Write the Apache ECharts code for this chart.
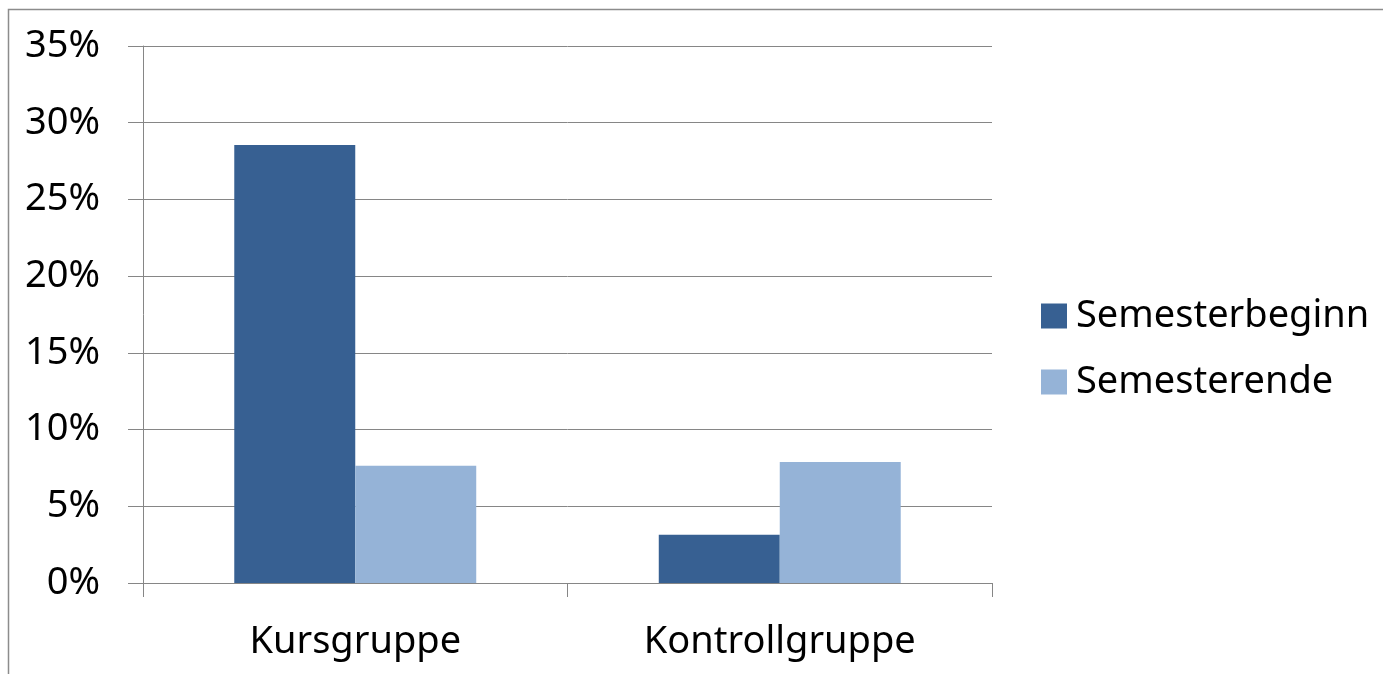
<!DOCTYPE html>
<html>
<head>
<meta charset="utf-8">
<script src="https://cdn.jsdelivr.net/npm/echarts@6/dist/echarts.min.js"></script>
<style>
  html, body { margin: 0; padding: 0; background: #fff; }
  #chart { width: 1383px; height: 674px; }
</style>
</head>
<body>
<div id="chart"></div>
<script>
// Daten
const categories = ['Kursgruppe', 'Kontrollgruppe']
const seriesNames = ['Semesterbeginn', 'Semesterende']
const beginnValues = [28.55, 3.15]
const endeValues = [7.64, 7.88]
const yTicks = { min: 0, max: 35, interval: 5 }

const gray = '#868686'
const font = 'Noto Sans'

const myChart = echarts.init(document.getElementById('chart'))

const options = {
  animation: false,
  textStyle: { fontFamily: font },
  // Rahmen um das Diagramm
  graphic: [{
    type: 'rect',
    shape: { x: 8.5, y: 9.5, width: 1500, height: 800 },
    style: { fill: 'none', stroke: '#8c8c8c', lineWidth: 1.5 },
    silent: true
  }],
  grid: { left: 143, right: 391, top: 46, bottom: 91 },
  legend: {
    orient: 'vertical',
    left: 1036,
    top: 291,
    itemWidth: 26,
    itemHeight: 25,
    itemGap: 26,
    icon: 'rect',
    textStyle: { fontSize: 38, color: '#000', fontFamily: font, lineHeight: 40, padding: [0, 0, 0, 4] },
    data: seriesNames
  },
  xAxis: {
    type: 'category',
    data: categories,
    axisLine: { show: true, lineStyle: { color: gray, width: 1 } },
    axisTick: { show: true, length: 14, lineStyle: { color: gray } },
    axisLabel: { fontSize: 38, color: '#000', margin: 40, fontFamily: font }
  },
  yAxis: {
    type: 'value',
    min: yTicks.min,
    max: yTicks.max,
    interval: yTicks.interval,
    axisLine: { show: true, lineStyle: { color: gray, width: 1 } },
    axisTick: { show: true, length: 15, lineStyle: { color: gray } },
    splitLine: { show: true, lineStyle: { color: gray, width: 1 } },
    axisLabel: { fontSize: 38, color: '#000', margin: 43, fontFamily: font, formatter: '{value}%' }
  },
  series: [{
    name: seriesNames[0],
    type: 'bar',
    data: beginnValues,
    barGap: '0%',
    barCategoryGap: '43%',
    itemStyle: { color: '#376092' }
  }, {
    name: seriesNames[1],
    type: 'bar',
    data: endeValues,
    barGap: '0%',
    barCategoryGap: '43%',
    itemStyle: { color: '#95b3d7' }
  }]
}

myChart.setOption(options)
</script>
</body>
</html>
